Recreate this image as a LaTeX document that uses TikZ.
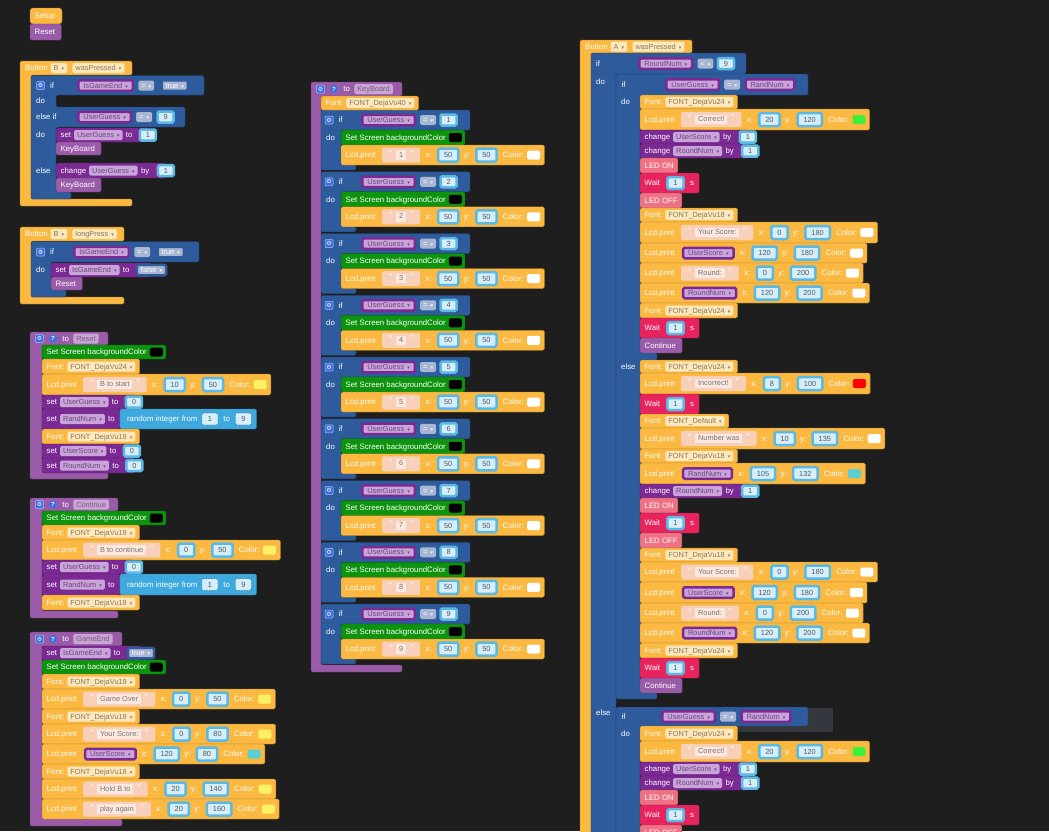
\documentclass[tikz,border=0pt]{standalone}
\usepackage{fontspec}
\setmainfont{Liberation Sans}
\newfontfamily\symf{DejaVu Sans}
\usetikzlibrary{positioning}

\definecolor{canvas}{HTML}{1E1E1E}
\definecolor{yel}{HTML}{FBB941}
\definecolor{yelfld}{HTML}{FDE7BC}
\definecolor{yeltxt}{HTML}{8A7A5C}
\definecolor{proc}{HTML}{9A5CA8}
\definecolor{procfld}{HTML}{C8A5D2}
\definecolor{proctxt}{HTML}{7A5A85}
\definecolor{var}{HTML}{7B2A93}
\definecolor{varfld}{HTML}{C9A3DA}
\definecolor{vartxt}{HTML}{6A4A78}
\definecolor{logic}{HTML}{2E5B9C}
\definecolor{logicfld}{HTML}{A8B5D3}
\definecolor{num}{HTML}{5BB8E3}
\definecolor{numfld}{HTML}{D5EEFA}
\definecolor{numtxt}{HTML}{505A60}
\definecolor{mathb}{HTML}{3EA9DF}
\definecolor{scr}{HTML}{0E930E}
\definecolor{strpeach}{HTML}{F8CFB8}
\definecolor{strfld}{HTML}{FCE8DE}
\definecolor{strtxt}{HTML}{777777}
\definecolor{waitc}{HTML}{E8245F}
\definecolor{led}{HTML}{EF7284}
\definecolor{icon}{HTML}{3E6EE0}
\definecolor{lcdyel}{HTML}{FFF064}
\definecolor{lcdteal}{HTML}{5ECECE}
\definecolor{lcdgreen}{HTML}{3CF03C}
\definecolor{ghost}{HTML}{34373C}

\pgfdeclarelayer{back}
\pgfdeclarelayer{bg}
\pgfdeclarelayer{mid}
\pgfsetlayers{back,bg,mid,main}

\newcommand\lbl{\fontsize{7.8}{9}\selectfont}
\newcommand\fld{\fontsize{7.4}{9}\selectfont}
\newcommand\dd{\hspace{3pt}{\symf\fontsize{5}{5}\selectfont ▾}}
\newcommand\qt[1]{{\fontsize{10}{10}\selectfont\color{white}#1}}
\newcommand\strq[1]{\qt{“}\hspace{4pt}{\setlength\fboxsep{1.2pt}\colorbox{strfld}{\hspace{1.5pt}\textcolor{strtxt}{\rule[-1.6pt]{0pt}{7pt}#1}\hspace{1.5pt}}}\hspace{4pt}\qt{”}}

% one statement row: fill from the left edge to the given right end
\newcommand\rowfill[5]{%
  \coordinate (rowR) at (#1);
  \begin{pgfonlayer}{mid}
    \fill[blockc=#2] (#3,#4) rectangle (rowR |- 0,#5);
  \end{pgfonlayer}}
\newcommand\fontrow[5]{%
  \node[lab] (#1a) at (#2+4.5,{(#3+#4)/2}) {Font:};
  \node[yfld, right=2.5pt of #1a] (#1b) {#5\dd};
  \rowfill{[xshift=4pt]#1b.east}{yel}{#2}{#3}{#4}}
\newcommand\scrrow[4]{%
  \node[lab] (#1a) at (#2+4.5,{(#3+#4)/2}) {Set Screen backgroundColor};
  \node[swatch=black, right=2.5pt of #1a] (#1b) {};
  \rowfill{[xshift=3pt]#1b.east}{scr}{#2}{#3}{#4}}
\newcommand\lcdtail[4]{%
  \node[lab, right=5pt of #1b] (#1c) {x:};
  \node[numb, minimum height=13pt, right=5pt of #1c] (#1d) {#2};
  \node[lab, right=4pt of #1d] (#1e) {y:};
  \node[numb, minimum height=13pt, right=5pt of #1e] (#1f) {#3};
  \node[lab, right=5pt of #1f] (#1g) {Color:};
  \node[swatch=#4, right=3pt of #1g] (#1h) {};}
\newcommand\lcdstr[8]{%
  \node[lab] (#1a) at (#2+4.5,{(#3+#4)/2}) {Lcd.print};
  \node[strblk, right=6pt of #1a] (#1b) {\strq{#5}};
  \lcdtail{#1}{#6}{#7}{#8}
  \rowfill{[xshift=4pt]#1h.east}{yel}{#2}{#3}{#4}}
\newcommand\lcdvar[8]{%
  \node[lab] (#1a) at (#2+4.5,{(#3+#4)/2}) {Lcd.print};
  \node[vblk, right=7pt of #1a] (#1b) {#5\dd};
  \lcdtail{#1}{#6}{#7}{#8}
  \rowfill{[xshift=4pt]#1h.east}{yel}{#2}{#3}{#4}}
\newcommand\setnum[6]{%
  \node[lab] (#1a) at (#2+4.5,{(#3+#4)/2}) {set};
  \node[vfld, right=2.5pt of #1a] (#1b) {#5\dd};
  \node[lab, right=3pt of #1b] (#1c) {to};
  \node[numb, right=6pt of #1c] (#1d) {#6};
  \rowfill{#1d.center}{var}{#2}{#3}{#4}}
\newcommand\setbool[6]{%
  \node[lab] (#1a) at (#2+4.5,{(#3+#4)/2}) {set};
  \node[vfld, right=2.5pt of #1a] (#1b) {#5\dd};
  \node[lab, right=3pt of #1b] (#1c) {to};
  \node[boolb, right=6pt of #1c] (#1d) {#6\dd};
  \rowfill{#1d.center}{var}{#2}{#3}{#4}}
\newcommand\setrand[7]{%
  \node[lab] (#1a) at (#2+4.5,{(#3+#4)/2}) {set};
  \node[vfld, right=2.5pt of #1a] (#1b) {#5\dd};
  \node[lab, right=3pt of #1b] (#1c) {to};
  \node[lab, right=12pt of #1c] (#1d) {random integer from};
  \node[shnum, right=4pt of #1d] (#1e) {#6};
  \node[lab, right=5pt of #1e] (#1f) {to};
  \node[shnum, right=5pt of #1f] (#1g) {#7};
  \rowfill{[xshift=5pt]#1c.east}{var}{#2}{#3}{#4}
  \coordinate (rndR) at ([xshift=5pt]#1g.east);
  \begin{pgfonlayer}{mid}
    \fill[blockc=mathb] (rowR |- 0,#3) rectangle (rndR |- 0,#4);
  \end{pgfonlayer}}
\newcommand\chgrow[6]{%
  \node[lab] (#1a) at (#2+4.5,{(#3+#4)/2}) {change};
  \node[vfld, right=2.5pt of #1a] (#1b) {#5\dd};
  \node[lab, right=3pt of #1b] (#1c) {by};
  \node[numb, right=7pt of #1c] (#1d) {#6};
  \rowfill{#1d.center}{var}{#2}{#3}{#4}}
\newcommand\callrow[5]{%
  \node[lab] (#1a) at (#2+4.5,{(#3+#4)/2}) {#5};
  \rowfill{[xshift=6pt]#1a.east}{proc}{#2}{#3}{#4}}
\newcommand\plainrow[6]{%
  \node[lab] (#1a) at (#3+4.5,{(#4+#5)/2}) {#6};
  \rowfill{[xshift=4pt]#1a.east}{#2}{#3}{#4}{#5}}
\newcommand\waitrow[5]{%
  \node[lab] (#1a) at (#2+4.5,{(#3+#4)/2}) {Wait};
  \node[numb, minimum height=12pt, right=6pt of #1a] (#1b) {#5};
  \node[lab, right=5pt of #1b] (#1c) {s};
  \rowfill{[xshift=5pt]#1c.east}{waitc}{#2}{#3}{#4}}
% hat and procedure headers
\newcommand\buttonhead[5]{%
  \node[lab] (#1a) at (#2+5,#3) {Button};
  \node[yfld, right=2.5pt of #1a] (#1b) {#4\dd};
  \node[yfld, right=5pt of #1b] (#1c) {#5\dd};}
\newcommand\prochead[4]{%
  \node[gearic] (#1a) at (#2+9.5,#3) {⚙};
  \node[helpic, right=5pt of #1a] (#1b) {?};
  \node[lab, right=5pt of #1b] (#1c) {to};
  \node[pfld, right=4pt of #1c] (#1d) {#4};}
\newcommand\procbody[6]{%
  \begin{pgfonlayer}{bg}
    \fill[blockc=proc] (#1,#2) -- (#6,#2) -- (#6,#3) -- (#4,#3) -- (#4,#5-7)
      -- (#6,#5-7) -- (#6,#5) -- (#1,#5) -- cycle;
  \end{pgfonlayer}}

\begin{document}
\begin{tikzpicture}[
  x=1pt, y=-1pt,
  lab/.style={text=white, inner sep=0pt, anchor=west, font=\lbl, text height=5.6pt, text depth=0pt},
  fldbase/.style={rounded corners=1.5pt, inner xsep=3pt, inner ysep=0pt, minimum height=10pt,
    font=\fld, text height=5.4pt, text depth=0pt},
  yfld/.style={fldbase, fill=yelfld, text=yeltxt},
  vfld/.style={fldbase, fill=varfld, text=vartxt},
  pfld/.style={fldbase, fill=procfld, text=proctxt},
  opf/.style={fldbase, fill=logicfld, text=white},
  vblk/.style={vfld, draw=var, line width=2.5pt, minimum height=10.5pt, inner xsep=5pt},
  boolb/.style={opf, draw=logic, line width=2.5pt, minimum height=10.5pt, inner xsep=4pt},
  numb/.style={fldbase, fill=numfld, text=numtxt, draw=num, line width=2.5pt, minimum height=11pt, inner xsep=6pt},
  shnum/.style={fldbase, fill=numfld, text=numtxt, draw=mathb!60!black, densely dotted,
    line width=.6pt, inner xsep=5pt, minimum width=16pt, minimum height=12pt},
  strblk/.style={fill=strpeach, inner xsep=7pt, inner ysep=0pt, minimum height=15pt,
    rounded corners=1.5pt, font=\fld},
  swatch/.style={fill=#1, rounded corners=1.5pt, minimum width=13pt, minimum height=9pt, inner sep=0pt},
  gearic/.style={fill=icon, draw=icon!45!white, line width=.5pt, rounded corners=1pt, minimum size=8pt,
    inner sep=0pt, text=white, font=\symf\fontsize{6}{6}\selectfont},
  helpic/.style={circle, fill=icon, minimum size=8pt, inner sep=0pt, text=white,
    font=\fontsize{6}{6}\selectfont\bfseries},
  blockc/.style={fill=#1, draw=#1!70!black, line width=.4pt, rounded corners=1.5pt}
]
  \useasboundingbox (0,0) rectangle (1049,831);
  \begin{pgfonlayer}{back}
    \fill[canvas] (0,0) rectangle (1049,831);
  \end{pgfonlayer}

  % Setup
  \node[lab] (setup) at (34.5,16) {Setup};
  \begin{pgfonlayer}{bg}
    \fill[blockc=yel, rounded corners=3pt] (30,24) -- (30,8) -- (62,8) -- (62,24) -- cycle;
  \end{pgfonlayer}
  \callrow{st}{30}{24}{40}{Reset}

  % Button B wasPressed
  \buttonhead{bw}{20}{68}{B}{wasPressed}
  \begin{pgfonlayer}{bg}
    \fill[blockc=yel] (20,61) -- (132,61) -- (132,75) -- (31,75) -- (31,199) -- (132,199)
      -- (132,206) -- (20,206) -- cycle;
    \fill[blockc=logic] (31,75.5) -- (204,75.5) -- (204,95) -- (56,95) -- (56,107) -- (185,107)
      -- (185,127) -- (56,127) -- (56,192) -- (71,192) -- (71,199) -- (31,199) -- cycle;
  \end{pgfonlayer}
  \node[gearic] (bwg) at (40.5,85.5) {⚙};
  \node[lab] (bwif) at (50,85.5) {if};
  \node[vblk, anchor=west] (bwv) at (77,85.5) {IsGameEnd\dd};
  \node[opf, right=4pt of bwv] (bwop) {=\dd};
  \node[boolb, right=6pt of bwop] (bwt) {true\dd};
  \node[lab] (bwdo) at (36,101) {do};
  \node[lab] (bwelif) at (36,117) {else if};
  \node[vblk, anchor=west] (bwv2) at (77,117) {UserGuess\dd};
  \node[opf, right=4pt of bwv2] (bwop2) {=\dd};
  \node[numb, right=4pt of bwop2] (bwn2) {9};
  \node[lab] (bwdo2) at (36,135) {do};
  \node[lab] (bwelse) at (36,170.5) {else};
  \setnum{bwa}{56}{128}{142}{UserGuess}{1}
  \callrow{bwb}{56}{142}{155}{KeyBoard}
  \chgrow{bwc}{56}{163}{178}{UserGuess}{1}
  \callrow{bwd}{56}{178}{192}{KeyBoard}

  % Button B longPress
  \buttonhead{bl}{20}{234}{B}{longPress}
  \begin{pgfonlayer}{bg}
    \fill[blockc=yel] (20,227) -- (124,227) -- (124,241) -- (31,241) -- (31,297) -- (124,297)
      -- (124,304) -- (20,304) -- cycle;
    \fill[blockc=logic] (31,241.5) -- (199,241.5) -- (199,262) -- (51,262) -- (51,290) -- (66,290)
      -- (66,297) -- (31,297) -- cycle;
  \end{pgfonlayer}
  \node[gearic] (blg) at (40.5,252) {⚙};
  \node[lab] (blif) at (50,252) {if};
  \node[vblk, anchor=west] (blv) at (73,252) {IsGameEnd\dd};
  \node[opf, right=4pt of blv] (blop) {=\dd};
  \node[boolb, right=6pt of blop] (blt) {true\dd};
  \node[lab] (bldo) at (36,270) {do};
  \setbool{bla}{51}{263}{277}{IsGameEnd}{false}
  \callrow{blb}{51}{277}{290}{Reset}

  % to Reset
  \prochead{pr}{30}{338.5}{Reset}
  \procbody{30}{332}{345}{42}{479}{108}
  \scrrow{pra}{42}{345}{359}
  \fontrow{prb}{42}{359}{374}{FONT\_DejaVu24}
  \lcdstr{prc}{42}{374}{395}{B to start}{10}{50}{lcdyel}
  \setnum{prd}{42}{395}{409}{UserGuess}{0}
  \setrand{pre}{42}{409}{429}{RandNum}{1}{9}
  \fontrow{prf}{42}{429}{444}{FONT\_DejaVu18}
  \setnum{prg}{42}{444}{458}{UserScore}{0}
  \setnum{prh}{42}{458}{473}{RoundNum}{0}

  % to Continue
  \prochead{pc}{30}{504.5}{Continue}
  \procbody{30}{498}{511}{42}{618}{118}
  \scrrow{pca}{42}{511}{525}
  \fontrow{pcb}{42}{525}{540}{FONT\_DejaVu18}
  \lcdstr{pcc}{42}{540}{560}{B to continue}{0}{50}{lcdyel}
  \setnum{pcd}{42}{560}{574}{UserGuess}{0}
  \setrand{pce}{42}{574}{595}{RandNum}{1}{9}
  \fontrow{pcf}{42}{595}{610}{FONT\_DejaVu18}

  % to GameEnd
  \prochead{pg}{30}{639}{GameEnd}
  \procbody{30}{632}{646}{42}{826}{122}
  \setbool{pga}{42}{646}{660}{IsGameEnd}{true}
  \scrrow{pgb}{42}{660}{674}
  \fontrow{pgc}{42}{674}{689}{FONT\_DejaVu18}
  \lcdstr{pgd}{42}{689}{709}{Game Over}{0}{50}{lcdyel}
  \fontrow{pge}{42}{709}{724}{FONT\_DejaVu18}
  \lcdstr{pgf}{42}{724}{744}{Your Score:}{0}{80}{lcdyel}
  \lcdvar{pgg}{42}{744}{764}{UserScore}{120}{80}{lcdteal}
  \fontrow{pgh}{42}{764}{779}{FONT\_DejaVu18}
  \lcdstr{pgi}{42}{779}{799}{Hold B to}{20}{140}{lcdyel}
  \lcdstr{pgj}{42}{799}{819}{play again}{20}{160}{lcdyel}

  % to KeyBoard
  \prochead{pk}{311}{89}{KeyBoard}
  \procbody{311}{82}{96}{321}{672}{402}
  \fontrow{pka}{321}{96}{110}{FONT\_DejaVu40}
  \foreach \q in {1,...,9} {
    \pgfmathsetmacro\T{110+61.75*(\q-1)}
    \begin{pgfonlayer}{bg}
      \fill[blockc=logic] (321,\T) -- (470,\T) -- (470,\T+20) -- (341,\T+20) -- (341,\T+55)
        -- (356,\T+55) -- (356,\T+60) -- (321,\T+60) -- cycle;
    \end{pgfonlayer}
    \node[gearic] (k\q g) at (329,\T+10) {⚙};
    \node[lab] (k\q i) at (338.5,\T+10) {if};
    \node[vblk, anchor=west] (k\q v) at (361,\T+10) {UserGuess\dd};
    \node[opf, right=4pt of k\q v] (k\q o) {=\dd};
    \node[numb, right=3pt of k\q o] (k\q n) {\q};
    \node[lab] (k\q d) at (326,\T+27.5) {do};
    \scrrow{k\q s}{341}{\T+20}{\T+35}
    \lcdstr{k\q p}{341}{\T+35}{\T+55}{\q}{50}{50}{white}
  }

  % Button A wasPressed
  \buttonhead{ba}{580}{46.5}{A}{wasPressed}
  \begin{pgfonlayer}{bg}
    \fill[blockc=yel] (580,40) -- (692,40) -- (692,53) -- (591,53) -- (591,845) -- (580,845) -- cycle;
    \fill[blockc=logic] (591,53) -- (746,53) -- (746,74) -- (616,74) -- (616,845) -- (591,845) -- cycle;
    \fill[blockc=logic] (616,74) -- (808,74) -- (808,95) -- (640,95) -- (640,353) -- (657,353)
      -- (657,360) -- (640,360) -- (640,693) -- (657,693) -- (657,699) -- (616,699) -- cycle;
    \fill[ghost] (632,708) rectangle (833,732);
    \fill[blockc=logic] (616,707) -- (808,707) -- (808,726) -- (640,726) -- (640,845) -- (616,845) -- cycle;
  \end{pgfonlayer}
  \node[lab] (boif) at (596,63.5) {if};
  \node[vblk, anchor=west] (bov) at (638,63.5) {RoundNum\dd};
  \node[opf, right=4pt of bov] (boop) {<\dd};
  \node[numb, right=3pt of boop] (bon) {9};
  \node[lab] (bodo) at (596,82) {do};
  \node[lab] (boelse) at (596,713) {else};

  % first inner if and its else
  \node[lab] (b1if) at (621.5,84.5) {if};
  \node[vblk, anchor=west] (b1v) at (665,84.5) {UserGuess\dd};
  \node[opf, right=4pt of b1v] (b1op) {=\dd};
  \node[vblk, right=4pt of b1op] (b1w) {RandNum\dd};
  \node[lab] (b1do) at (621,102) {do};
  \node[lab] (b1else) at (621,367) {else};
  \fontrow{ca}{640}{95}{109}{FONT\_DejaVu24}
  \lcdstr{cb}{640}{109}{130}{Correct!}{20}{120}{lcdgreen}
  \chgrow{cc}{640}{130}{144}{UserScore}{1}
  \chgrow{cd}{640}{144}{158}{RoundNum}{1}
  \plainrow{ce}{led}{640}{158}{173}{LED ON}
  \waitrow{cf}{640}{173}{193}{1}
  \plainrow{cg}{led}{640}{193}{208}{LED OFF}
  \fontrow{ch}{640}{208}{222}{FONT\_DejaVu18}
  \lcdstr{ci}{640}{222}{243}{Your Score:}{0}{180}{white}
  \lcdvar{cj}{640}{243}{263}{UserScore}{120}{180}{white}
  \lcdstr{ck}{640}{263}{283}{Round:}{0}{200}{white}
  \lcdvar{cl}{640}{283}{303}{RoundNum}{120}{200}{white}
  \fontrow{cm}{640}{303}{318}{FONT\_DejaVu24}
  \waitrow{cn}{640}{318}{338}{1}
  \callrow{co}{640}{338}{353}{Continue}

  \fontrow{ea}{640}{360}{373}{FONT\_DejaVu24}
  \lcdstr{eb}{640}{373}{394}{Incorrect!}{8}{100}{red}
  \waitrow{ec}{640}{394}{414}{1}
  \fontrow{ed}{640}{414}{428}{FONT\_Default}
  \lcdstr{ee}{640}{428}{449}{Number was}{10}{135}{white}
  \fontrow{ef}{640}{449}{463}{FONT\_DejaVu18}
  \lcdvar{eg}{640}{463}{484}{RandNum}{105}{132}{lcdteal}
  \chgrow{eh}{640}{484}{498}{RoundNum}{1}
  \plainrow{ei}{led}{640}{498}{513}{LED ON}
  \waitrow{ej}{640}{513}{533}{1}
  \plainrow{ek}{led}{640}{533}{548}{LED OFF}
  \fontrow{el}{640}{548}{562}{FONT\_DejaVu18}
  \lcdstr{em}{640}{562}{582}{Your Score:}{0}{180}{white}
  \lcdvar{en}{640}{582}{603}{UserScore}{120}{180}{white}
  \lcdstr{eo}{640}{603}{623}{Round:}{0}{200}{white}
  \lcdvar{ep}{640}{623}{643}{RoundNum}{120}{200}{white}
  \fontrow{eq}{640}{643}{658}{FONT\_DejaVu24}
  \waitrow{er}{640}{658}{678}{1}
  \callrow{es}{640}{678}{693}{Continue}

  % second inner if
  \node[lab] (b2if) at (621.5,716.5) {if};
  \node[vblk, anchor=west] (b2v) at (661,716.5) {UserGuess\dd};
  \node[opf, right=4pt of b2v] (b2op) {=\dd};
  \node[vblk, right=4pt of b2op] (b2w) {RandNum\dd};
  \node[lab] (b2do) at (621,734) {do};
  \fontrow{fa}{640}{726}{741}{FONT\_DejaVu24}
  \lcdstr{fb}{640}{741}{762}{Correct!}{20}{120}{lcdgreen}
  \chgrow{fc}{640}{762}{776}{UserScore}{1}
  \chgrow{fd}{640}{776}{790}{RoundNum}{1}
  \plainrow{fe}{led}{640}{790}{805}{LED ON}
  \waitrow{ff}{640}{805}{825}{1}
  \plainrow{fg}{led}{640}{825}{840}{LED OFF}
\end{tikzpicture}
\end{document}
